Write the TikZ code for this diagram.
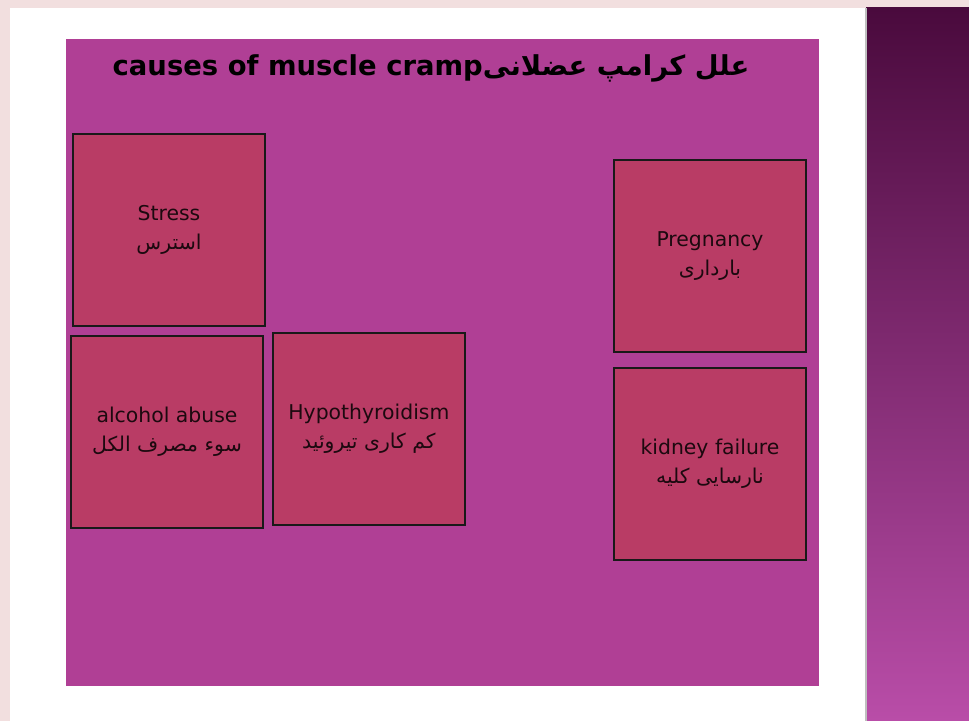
\documentclass[tikz,border=0pt]{standalone}
\usepackage{fontspec}
\setmainfont{DejaVu Sans}
\newfontfamily\fafont[Script=Arabic]{DejaVu Sans}
\TeXXeTstate=1
\usetikzlibrary{positioning}
\definecolor{PageBg}{HTML}{F2DFDF}
\definecolor{SlideBg}{HTML}{B03F95}
\definecolor{BoxFill}{HTML}{B93C65}
\definecolor{StripTop}{HTML}{4A0A3D}
\definecolor{StripBot}{HTML}{B94DA8}
\tikzset{
  causebox/.style={draw=black!90, line width=1.3pt, fill=BoxFill, align=center,
    minimum width=4.8cm, minimum height=4.8cm, inner sep=0pt,
    font=\fontsize{14.5}{20.8}\selectfont, text=black!85!BoxFill},
  titlebox/.style={font=\fontsize{19.5}{22}\selectfont\bfseries, inner sep=0pt},
}

\begin{document}
\begin{tikzpicture}[x=0.025cm, y=-0.025cm]
    \useasboundingbox (0,0) rectangle (969,721);
    \fill[PageBg] (0,0) rectangle (969,721);
    \fill[white] (10,8) rectangle (866,721);
    \shade[top color=StripTop, bottom color=StripBot] (866,8) rectangle (969,721);
    \draw[black!25, line width=1pt] (866,8) -- (866,721);
    \fill[SlideBg] (66,39) rectangle (819,686);
    \node[titlebox] (title) at (431,68) {causes of muscle cramp{\fafont\beginR علل کرامپ عضلانی\endR}};
    \node[causebox] (stress) at (169,230) {Stress\\{\fafont\beginR استرس\endR}};
    \node[causebox, below=0.2cm of stress, xshift=-0.05cm] (alcohol) {alcohol abuse\\{\fafont\beginR سوء مصرف الکل\endR}};
    \node[causebox, right=0.2cm of alcohol, yshift=0.075cm] (hypo) {Hypothyroidism\\{\fafont\beginR کم کاری تیروئید\endR}};
    \node[causebox] (pregnancy) at (710,256) {Pregnancy\\{\fafont\beginR بارداری\endR}};
    \node[causebox, below=0.35cm of pregnancy] (kidney) {kidney failure\\{\fafont\beginR نارسایی کلیه\endR}};
  \end{tikzpicture}
\end{document}
